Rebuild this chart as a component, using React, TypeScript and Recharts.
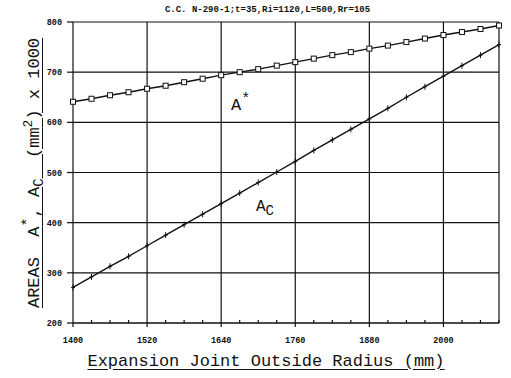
import React from "react";
import {
  CartesianGrid,
  Line,
  LineChart,
  ReferenceLine,
  XAxis,
  YAxis,
} from "recharts";

// outside radius (mm), one point every 30 mm
const radius = [
  1400, 1430, 1460, 1490, 1520, 1550, 1580, 1610, 1640, 1670, 1700, 1730,
  1760, 1790, 1820, 1850, 1880, 1910, 1940, 1970, 2000, 2030, 2060, 2090,
];
// A* (mm^2 x 1000)
const aStar = [
  641, 647, 654, 660, 667, 673, 680, 687, 694, 700, 706, 713,
  720, 727, 734, 740, 747, 753, 760, 767, 774, 780, 786, 793,
];
// Ac (mm^2 x 1000)
const aC = [
  271, 292, 313, 333, 354, 375, 396, 417, 438, 459, 480, 501,
  522, 544, 565, 586, 607, 628, 650, 671, 692, 713, 734, 755,
];
const xMajor = [1400, 1520, 1640, 1760, 1880, 2000];
const yTicks = [200, 300, 400, 500, 600, 700, 800];

const data = radius.map((r, i) => ({ r, aStar: aStar[i], aC: aC[i] }));

const INK = "#111";
const MONO = "'Liberation Mono', 'DejaVu Sans Mono', monospace";

function RadiusTick(props: any) {
  const { x, y, payload } = props;
  const major = xMajor.includes(payload.value);
  return (
    <g>
      <line
        x1={x}
        x2={x}
        y1={major ? y : y - 3}
        y2={major ? y + 4 : y}
        stroke={INK}
        strokeWidth={1.2}
      />
      {major && (
        <text
          x={x}
          y={y + 20}
          textAnchor="middle"
          fontFamily={MONO}
          fontWeight="bold"
          fontSize={8.5}
          fill={INK}
        >
          {payload.value}
        </text>
      )}
    </g>
  );
}

function SquareDot(props: any) {
  const { cx, cy } = props;
  if (cx == null || cy == null) return null;
  return (
    <rect
      x={cx - 2.5}
      y={cy - 2.5}
      width={5}
      height={5}
      fill="#fff"
      stroke={INK}
      strokeWidth={1}
    />
  );
}

function PlusDot(props: any) {
  const { cx, cy } = props;
  if (cx == null || cy == null) return null;
  return (
    <g stroke={INK} strokeWidth={1}>
      <line x1={cx} x2={cx} y1={cy - 3} y2={cy + 3} />
      <line x1={cx - 2} x2={cx + 2} y1={cy} y2={cy} />
    </g>
  );
}

export default function App() {
  return (
    <div
      style={{
        position: "absolute",
        left: 0,
        top: 0,
        width: 511,
        height: 378,
        background: "#fff",
        color: INK,
      }}
    >
      <LineChart
        width={511}
        height={378}
        data={data}
        margin={{ top: 22, right: 12, bottom: 0, left: 0 }}
      >
        <CartesianGrid vertical={false} stroke={INK} strokeWidth={1.2} />
        <XAxis
          dataKey="r"
          type="number"
          domain={[1400, 2090]}
          ticks={radius}
          interval={0}
          height={55}
          tickLine={false}
          tickSize={0}
          tickMargin={0}
          axisLine={{ stroke: INK, strokeWidth: 1.2 }}
          tick={<RadiusTick />}
        />
        <YAxis
          type="number"
          domain={[200, 800]}
          ticks={yTicks}
          interval={0}
          width={73}
          tickSize={6}
          tickMargin={5}
          axisLine={{ stroke: INK, strokeWidth: 1.2 }}
          tickLine={{ stroke: INK, strokeWidth: 1.2 }}
          tick={{ fontFamily: MONO, fontWeight: "bold", fontSize: 8.5, fill: INK }}
        />
        {xMajor.slice(1).map((v) => (
          <ReferenceLine key={v} x={v} stroke={INK} strokeWidth={1.2} />
        ))}
        <ReferenceLine x={2090} stroke={INK} strokeWidth={1.2} />
        <Line
          dataKey="aStar"
          type="linear"
          stroke={INK}
          strokeWidth={1.4}
          dot={<SquareDot />}
          isAnimationActive={false}
        />
        <Line
          dataKey="aC"
          type="linear"
          stroke={INK}
          strokeWidth={1.4}
          dot={<PlusDot />}
          isAnimationActive={false}
        />
      </LineChart>

      <div
        style={{
          position: "absolute",
          left: 0,
          width: 535,
          top: 4,
          textAlign: "center",
          fontFamily: MONO,
          fontWeight: "bold",
          fontSize: 9,
          lineHeight: "12px",
        }}
      >
        C.C. N-290-1;t=35,Ri=1120,L=500,Rr=105
      </div>

      <div
        style={{
          position: "absolute",
          left: 29 - 150,
          top: 173 - 11,
          width: 300,
          height: 22,
          lineHeight: "22px",
          transform: "rotate(-90deg)",
          textAlign: "center",
          fontFamily: MONO,
          fontSize: 17,
          whiteSpace: "pre",
          textDecoration: "underline",
          textUnderlineOffset: 3,
        }}
      >
        AREAS  A<sup style={{ fontSize: 15 }}>*</sup>, A
        <sub style={{ fontSize: 14 }}>C</sub>  (mm<sup style={{ fontSize: 13 }}>2</sup>) x 1000
      </div>

      <div
        style={{
          position: "absolute",
          left: 0,
          width: 532,
          top: 352,
          height: 20,
          lineHeight: "20px",
          textAlign: "center",
          fontFamily: MONO,
          fontSize: 17,
          whiteSpace: "pre",
          textDecoration: "underline",
          textUnderlineOffset: 3,
        }}
      >
        Expansion Joint Outside Radius (mm)
      </div>

      <div
        style={{
          position: "absolute",
          left: 231,
          top: 90,
          fontFamily: MONO,
          fontSize: 17,
          lineHeight: "20px",
          whiteSpace: "pre",
        }}
      >
        A<sup style={{ fontSize: 15 }}>*</sup>
      </div>

      <div
        style={{
          position: "absolute",
          left: 256,
          top: 197,
          fontFamily: MONO,
          fontSize: 16,
          lineHeight: "20px",
          whiteSpace: "pre",
        }}
      >
        A<sub style={{ fontSize: 14 }}>C</sub>
      </div>
    </div>
  );
}
